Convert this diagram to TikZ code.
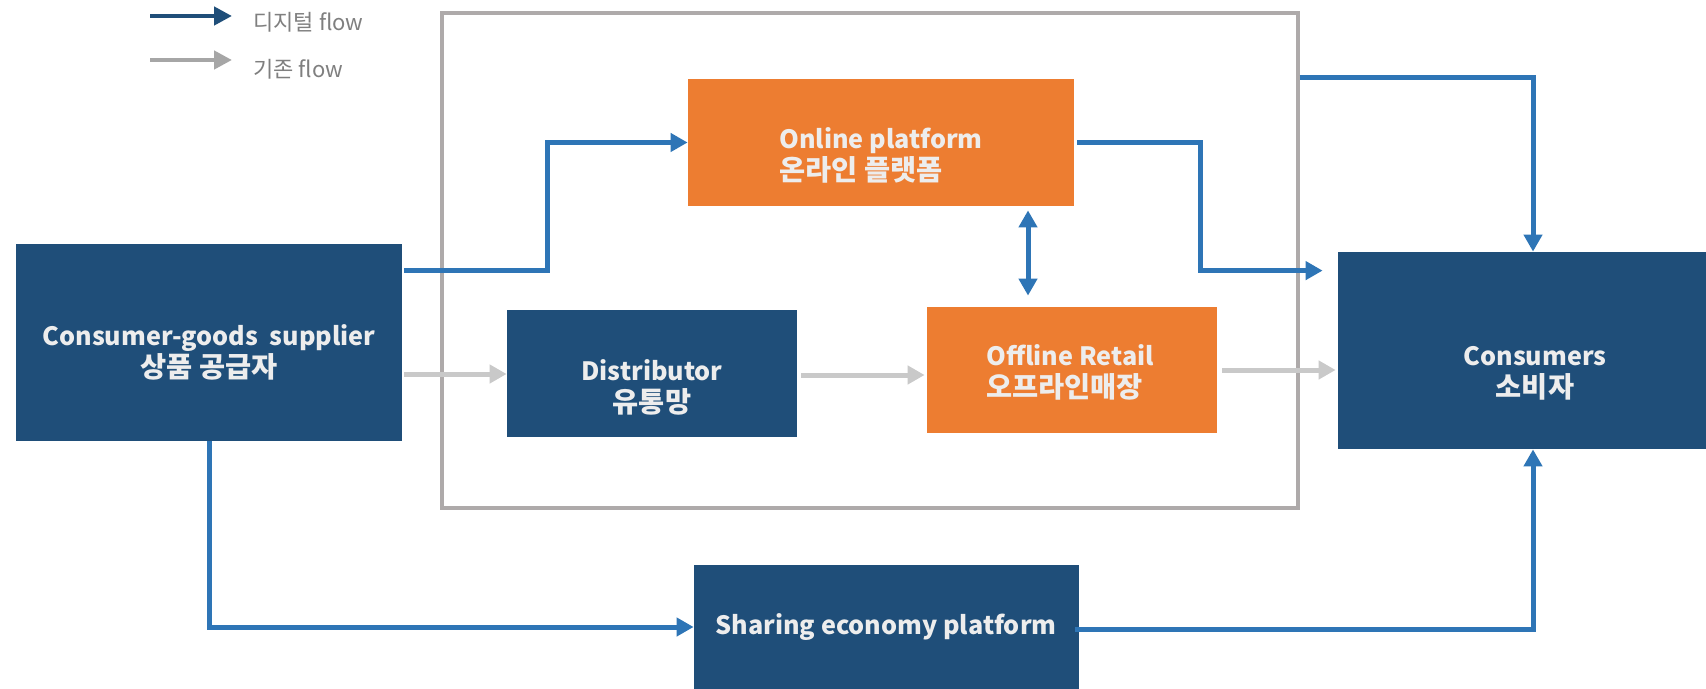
\documentclass[tikz,border=0pt]{standalone}
\usepackage{fontspec}
\setmainfont{Noto Sans CJK KR}
\usetikzlibrary{arrows.meta,calc}
\definecolor{dblue}{HTML}{1F4E79}
\definecolor{lblue}{HTML}{2E75B6}
\definecolor{orng}{HTML}{ED7D31}
\definecolor{frgray}{HTML}{AEAAAA}
\definecolor{flgray}{HTML}{C9C9C9}
\definecolor{lggray}{HTML}{A6A6A6}
\definecolor{txtw}{HTML}{EDEDED}
\definecolor{lgtxt}{HTML}{7F7F7F}
\newcommand{\kr}[1]{{\fontsize{14.2}{16}\selectfont #1}}
\tikzset{
  dbox/.style={fill=dblue, draw=none, inner sep=0pt},
  obox/.style={fill=orng, draw=none, inner sep=0pt},
  boxtext/.style={text=txtw, font=\fontsize{12.6}{16}\selectfont\bfseries, align=center, inner sep=0pt},
  bluearr/.style={draw=lblue, line width=2.5pt, -{Triangle[length=8.5pt,width=9pt]}},
  bluedbl/.style={draw=lblue, line width=2.5pt, {Triangle[length=8.5pt,width=9pt]}-{Triangle[length=8.5pt,width=9pt]}},
  grayarr/.style={draw=flgray, line width=2.5pt, -{Triangle[length=8.5pt,width=9pt]}},
  legtext/.style={text=lgtxt, font=\fontsize{11}{13}\selectfont, anchor=west, inner sep=0pt}
}
\begin{document}
\begin{tikzpicture}[x=0.5pt,y=-0.5pt]
\clip (0,0) rectangle (1706,689);
\useasboundingbox (0,0) rectangle (1706,689);
\fill[white] (0,0) rectangle (1706,689);

% legend
\coordinate (l1a) at (150,16);
\coordinate (l1b) at (232,16);
\coordinate (l2a) at (150,60);
\coordinate (l2b) at (232,60);
\draw[draw=dblue, line width=2.2pt, -{Triangle[length=9pt,width=9pt]}] (l1a) -- (l1b);
\draw[draw=lggray, line width=2.2pt, -{Triangle[length=9pt,width=9pt]}] (l2a) -- (l2b);
\node[legtext] (lt1) at (253,22) {디지털 flow};
\node[legtext] (lt2) at (253,69) {기존 flow};

% frame
\node[draw=frgray, line width=1.6pt, minimum width=428pt, minimum height=247.5pt, inner sep=0pt] (frame) at (870,260.5) {};

% boxes
\node[obox, minimum width=193pt, minimum height=63.5pt] (online) at (881,142.5) {};
\node[dbox, minimum width=193pt, minimum height=98.5pt] (sup) at (209,342.5) {};
\node[dbox, minimum width=145pt, minimum height=63.5pt] (dist) at (652,373.5) {};
\node[obox, minimum width=145pt, minimum height=63pt] (off) at (1072,370) {};
\node[dbox, minimum width=195pt, minimum height=98.5pt] (cons) at (1533,350.5) {};
\node[dbox, minimum width=192.5pt, minimum height=62pt] (share) at (886.5,627) {};

% texts
\node[boxtext, align=left] (tonline) at (881,155) {Online platform\\\kr{온라인 플랫폼}};
\node[boxtext] (tsup) at (209,352) {Consumer-goods\ \ supplier\\\kr{상품 공급자}};
\node[boxtext] (tdist) at (652,387.5) {Distributor\\\kr{유통망}};
\node[boxtext, align=left] (toff) at (1070,372.5) {Offline Retail\\\kr{오프라인매장}};
\node[boxtext] (tcons) at (1535,373) {Consumers\\\kr{소비자}};
\node[boxtext] (tshare) at (886,627) {Sharing economy platform};

% blue connectors
\draw[bluearr] ($(sup.north east)+(2,27)$) -| ($(online.west)+(-140,0)$) -- (online.west);
\draw[bluearr] ($(online.east)+(3,0)$) -| ($(cons.north west)+(-137,19)$) -- ($(cons.north west)+(-15,19)$);
\draw[bluearr] ($(frame.north east)+(0,66)$) -| (cons.north);
\draw[bluedbl] ($(online.south)+(147,4)$) -- ($(off.north)+(-44,-11)$);
\draw[bluearr] (sup.south) |- (share.west);
\draw[bluearr] ($(share.east)+(-4,2)$) -| (cons.south);

% gray connectors
\draw[grayarr] ($(sup.east)+(2,31.5)$) -- ($(dist.west)+(0,0.5)$);
\draw[grayarr] ($(dist.east)+(4,1.5)$) -- ($(off.west)+(-2,5)$);
\draw[grayarr] ($(off.east)+(5,0)$) -- ($(cons.west)+(-2,19.5)$);
\end{tikzpicture}
\end{document}
